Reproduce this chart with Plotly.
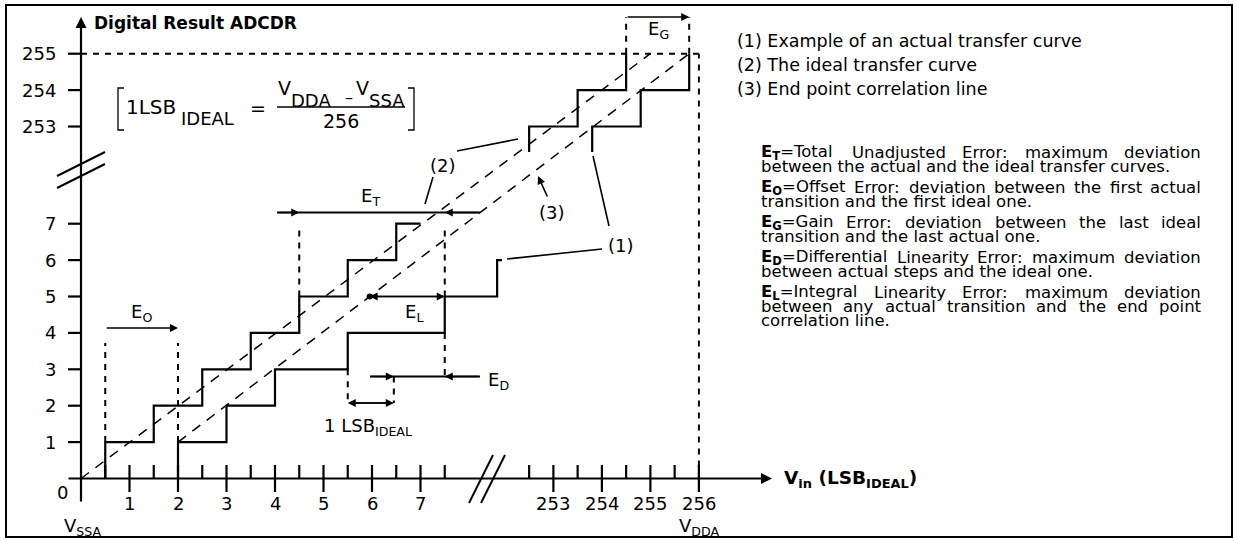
import plotly.graph_objects as go

W, H = 1237, 541
FONT = "DejaVu Sans, Liberation Sans, Arial, sans-serif"
INK = "black"

# ---------------- data (LSB units) ----------------
x_ticks_low = [1, 2, 3, 4, 5, 6, 7]
x_ticks_high = [253, 254, 255, 256]
x_half_ticks = [0.5, 1.5, 2.5, 3.5, 4.5, 5.5, 6.5, 7.5, 252.5, 253.5, 254.5, 255.5]
y_ticks = [1, 2, 3, 4, 5, 6, 7, 253, 254, 255]

# (2) ideal transfer curve (transitions at half LSB)
ideal_low_x = [0.5, 1.5, 2.5, 3.5, 4.5, 5.5, 6.5, 7.0]
ideal_low_y = [0, 1, 2, 3, 4, 5, 6, 7]
ideal_high_x = [252.5, 253.5, 254.5, 254.5]
ideal_high_y = [252.3, 253, 254, 255]

# (1) example of an actual transfer curve
actual_low_x = [2, 3, 4, 5.5, 7.5, 8.58, 8.68]
actual_low_y = [0, 1, 2, 3, 4, 5, 6]
actual_high_x = [253.8, 254.8, 255.8, 255.8]
actual_high_y = [252.3, 253, 254, 255]

# straight lines
ideal_line_x = [0, 255]
ideal_line_y = [0, 255]
endpoint_line_x = [2, 255.8]      # (3) end point correlation line
endpoint_line_y = [1, 255]

one_lsb = [5.5, 6.45]             # 1 LSB_IDEAL marker
full_scale = 256

error_defs = [
    ("T", ["Total Unadjusted Error: maximum deviation",
           "between the actual and the ideal transfer curves."]),
    ("O", ["Offset Error: deviation between the first actual",
           "transition and the first ideal one."]),
    ("G", ["Gain Error: deviation between the last ideal",
           "transition and the last actual one."]),
    ("D", ["Differential Linearity Error: maximum deviation",
           "between actual steps and the ideal one."]),
    ("L", ["Integral Linearity Error: maximum deviation",
           "between any actual transition and the end point",
           "correlation line."]),
]
legend_lines = ["(1) Example of an actual transfer curve",
                "(2) The ideal transfer curve",
                "(3) End point correlation line"]

# ---------------- axis geometry (broken axes) ----------------
X0_PX, X_SCALE = 81, 48.5
Y0_PX, Y_SCALE = 478.5, 36.4
X_BREAK_OFF = 243.26
Y_BREAK_OFF = 243.33


def xu(v):
    return v - X_BREAK_OFF if v > 100 else v


def yw(v):
    return v - Y_BREAK_OFF if v > 100 else v


def ux(px):
    return (px - X0_PX) / X_SCALE


def uy(py):
    return (Y0_PX - py) / Y_SCALE


fig = go.Figure()
shapes = []
annotations = []


def curve(xs, ys, shape="linear", width=2.2, dash=None):
    fig.add_trace(go.Scatter(
        x=[xu(v) for v in xs], y=[yw(v) for v in ys], mode="lines",
        line=dict(color=INK, width=width, shape=shape, dash=dash),
        hoverinfo="skip", showlegend=False))


def seg(u0, w0, u1, w1, width=2, dash=None):
    shapes.append(dict(type="line", xref="x", yref="y", x0=u0, y0=w0, x1=u1, y1=w1,
                       line=dict(color=INK, width=width, dash=dash)))


def arrow(u0, w0, u1, w1, width=1.6, size=1.0, head=2):
    annotations.append(dict(x=u1, y=w1, ax=u0, ay=w0, xref="x", yref="y", axref="x", ayref="y",
                            text="", showarrow=True, arrowhead=head, arrowsize=size,
                            arrowwidth=width, arrowcolor=INK, standoff=0, startstandoff=0))


def label(u, w, s, size=18, anchor="center", pad=1):
    annotations.append(dict(x=u, y=w, xref="x", yref="y", text=s, showarrow=False,
                            xanchor=anchor, yanchor="middle", borderpad=pad,
                            font=dict(family=FONT, size=size, color=INK)))


def ptext(px, py, s, size=18, anchor="center", pad=1):
    label(ux(px), uy(py), s, size, anchor, pad)


DASH_V = "6px,6px"

# ---------------- curves ----------------
curve(ideal_low_x, ideal_low_y, "vh")
curve(ideal_high_x, ideal_high_y, "vh")
curve(actual_low_x, actual_low_y, "vh")
curve(actual_high_x, actual_high_y, "vh")
curve(ideal_line_x, ideal_line_y, width=1.5, dash="10px,8px")
curve(endpoint_line_x, endpoint_line_y, width=1.5, dash="10px,8px")

# ---------------- axes ----------------
arrow(ux(67), 0, ux(772), 0, width=2.2, size=1.0)
arrow(0, uy(503), 0, uy(17), width=2.2, size=1.0)

tx, ty = [], []
for v in x_ticks_low + x_ticks_high:
    tx += [xu(v), xu(v), None]
    ty += [uy(465), uy(492), None]
for v in x_half_ticks:
    tx += [xu(v), xu(v), None]
    ty += [uy(465), 0, None]
for v in y_ticks:
    tx += [ux(68), 0, None]
    ty += [yw(v), yw(v), None]
fig.add_trace(go.Scatter(x=tx, y=ty, mode="lines", line=dict(color=INK, width=2.2),
                         hoverinfo="skip", showlegend=False))

for v in x_ticks_low + x_ticks_high:
    label(xu(v), uy(503), str(v))
for v in y_ticks:
    label(ux(58), yw(v), str(v), anchor="right")
ptext(62, 492, "0")
ptext(83, 527, "V<sub>SSA</sub>")
ptext(xu(full_scale) * X_SCALE + X0_PX + 1, 527, "V<sub>DDA</sub>")
ptext(92, 23, "<b>Digital Result ADCDR</b>", size=17, anchor="left")
ptext(782, 479, "<b>V<sub>in</sub> (LSB<sub>IDEAL</sub>)</b>", size=18.5, anchor="left")

# axis breaks
seg(ux(469), uy(503), ux(493), uy(455))
seg(ux(481), uy(503), ux(505), uy(455))
seg(ux(57), uy(176), ux(105), uy(152))
seg(ux(57), uy(188), ux(105), uy(164))

# full-scale dashed boundaries
seg(0, yw(255), xu(full_scale), yw(255), dash=DASH_V)
seg(xu(full_scale), 0, xu(full_scale), yw(255), dash=DASH_V)

# ---------------- error markers ----------------
# E_O: first ideal vs first actual transition
eo_a, eo_b = ideal_low_x[0], actual_low_x[0]
seg(eo_a, 1, eo_a, uy(343), dash=DASH_V)
seg(eo_b, 1, eo_b, uy(343), dash=DASH_V)
arrow(eo_a, uy(328), eo_b, uy(328))
label((eo_a + eo_b) / 2, uy(313), "E<sub>O</sub>")

# E_T: max deviation between actual and ideal curves
et_a, et_b = ideal_low_x[4], actual_low_x[4]
seg(et_a, ideal_low_y[5], et_a, uy(226), dash=DASH_V)
seg(et_b, actual_low_y[5], et_b, uy(226), dash=DASH_V)
seg(ux(277), uy(212.5), ux(480), uy(212.5), width=2)
arrow(ux(277), uy(212.5), et_a, uy(212.5))
arrow(ux(480), uy(212.5), et_b, uy(212.5))
label(ux(370), uy(197), "E<sub>T</sub>")

# E_L: actual transition vs end point line
eu0, eu1 = xu(endpoint_line_x[0]), xu(endpoint_line_x[1])
ew0, ew1 = yw(endpoint_line_y[0]), yw(endpoint_line_y[1])
el_y = 5
el_x = eu0 + (el_y - ew0) * (eu1 - eu0) / (ew1 - ew0)
arrow(et_b, el_y, el_x, el_y)
arrow(el_x, el_y, et_b, el_y)
fig.add_trace(go.Scatter(x=[el_x], y=[el_y], mode="markers",
                         marker=dict(color=INK, size=6), hoverinfo="skip", showlegend=False))
label(ux(414), uy(313), "E<sub>L</sub>")

# E_D and 1 LSB
ed_w = uy(376.5)
lsb_w = uy(403)
seg(et_b, actual_low_y[4], et_b, ed_w, dash=DASH_V)
seg(one_lsb[0], actual_low_y[3], one_lsb[0], lsb_w, dash=DASH_V)
seg(one_lsb[1], ed_w, one_lsb[1], lsb_w, dash=DASH_V)
seg(ux(370), ed_w, ux(480), ed_w, width=2)
arrow(ux(370), ed_w, one_lsb[1], ed_w)
arrow(ux(480), ed_w, et_b, ed_w)
label(ux(486), uy(381), "E<sub>D</sub>", anchor="left")
arrow(one_lsb[0], lsb_w, one_lsb[1], lsb_w)
arrow(one_lsb[1], lsb_w, one_lsb[0], lsb_w)
ptext(322, 427, "1 LSB<sub>IDEAL</sub>", anchor="left")

# E_G: last ideal vs last actual transition
eg_a, eg_b = xu(ideal_high_x[-1]), xu(actual_high_x[-1])
seg(eg_a, yw(255), eg_a, uy(17), dash=DASH_V)
seg(eg_b, yw(255), eg_b, uy(17), dash=DASH_V)
arrow(eg_a, uy(17), eg_b, uy(17))
label(ux(658), uy(30), "E<sub>G</sub>")

# ---------------- leader lines ----------------
seg(ux(433), uy(177), ux(425), uy(204), width=1.6)
seg(ux(457), uy(151), ux(518), uy(139), width=1.6)
ptext(443, 165, "(2)")
arrow(ux(548), uy(198), ux(538), uy(176), width=1.6)
ptext(552, 212, "(3)")
seg(ux(602), uy(249), ux(507), uy(259), width=1.6)
seg(ux(609), uy(226), ux(593), uy(156), width=1.6)
ptext(621, 245, "(1)")

# ---------------- formula ----------------
shapes.append(dict(type="path", xref="x", yref="y", line=dict(color=INK, width=1.3),
                   path=f"M {ux(124)} {uy(88)} L {ux(118)} {uy(88)} L {ux(118)} {uy(130)} L {ux(124)} {uy(130)}"))
shapes.append(dict(type="path", xref="x", yref="y", line=dict(color=INK, width=1.3),
                   path=f"M {ux(408)} {uy(88)} L {ux(414)} {uy(88)} L {ux(414)} {uy(130)} L {ux(408)} {uy(130)}"))
ptext(125, 107, "1LSB", size=20, anchor="left", pad=0)
ptext(180, 118, "IDEAL", size=18, anchor="left", pad=0)
ptext(258, 108, "=", size=19)
ptext(277, 88, "V", size=19, anchor="left", pad=0)
ptext(290, 100, "DDA", size=18, anchor="left", pad=0)
ptext(349, 97, "\u2013", size=16)
ptext(355, 88, "V", size=19, anchor="left", pad=0)
ptext(368, 100, "SSA", size=18, anchor="left", pad=0)
seg(ux(277), uy(107), ux(405), uy(107), width=1.5)
ptext(341, 121, str(full_scale), size=19)

# ---------------- right-hand text panel ----------------
# DejaVu Sans advance widths (em)
REG = dict(A=.684, B=.686, C=.698, D=.770, E=.632, F=.575, G=.775, H=.752, I=.295, J=.295,
           K=.656, L=.557, M=.863, N=.748, O=.787, P=.603, Q=.787, R=.695, S=.635, T=.611,
           U=.732, V=.684, W=.989, X=.685, Y=.611, Z=.685,
           a=.613, b=.635, c=.550, d=.635, e=.615, f=.352, g=.635, h=.634, i=.278, j=.278,
           k=.579, l=.278, m=.974, n=.634, o=.612, p=.635, q=.635, r=.411, s=.521, t=.392,
           u=.634, v=.592, w=.818, x=.592, y=.592, z=.525)
REG.update({" ": .318, "(": .390, ")": .390, ".": .318, ":": .337, "=": .838, ",": .318})
BOLD = dict(E=.683, T=.682, O=.850, G=.821, D=.830, L=.637)
PSIZE = 16.5
TX0, TX1 = 760, 1200


def wlen(s):
    return sum(REG.get(c, .636) for c in s) * PSIZE


def place_line(words, py, justify, lead=None, lead_w=0.0):
    items = list(words)
    widths = [wlen(wd) for wd in items]
    if lead is not None:
        items[0] = lead + items[0]
        widths[0] += lead_w
    if not justify:
        ptext(TX0, py, " ".join(items), size=PSIZE, anchor="left", pad=0)
        return
    gap = (TX1 - TX0 - sum(widths)) / (len(items) - 1)
    x = TX0
    for it, wd in zip(items, widths):
        ptext(x, py, it, size=PSIZE, anchor="left", pad=0)
        x += wd + gap


for i, s in enumerate(legend_lines):
    ptext(736, 41 + 24 * i, s, size=17.5, anchor="left", pad=0)

for k, (sub, lines) in enumerate(error_defs):
    lead = f"<b>E<sub>{sub}</sub></b>="
    lead_w = (BOLD["E"] + 0.7 * BOLD[sub] + REG["="]) * PSIZE
    for j, line in enumerate(lines):
        last = j == len(lines) - 1
        place_line(line.split(" "), 152 + 35 * k + 14 * j, not last,
                   lead if j == 0 else None, lead_w if j == 0 else 0.0)

# outer frame
shapes.append(dict(type="rect", xref="paper", yref="paper", x0=6 / W, x1=1232 / W,
                   y0=1 - 537 / H, y1=1 - 5 / H, line=dict(color=INK, width=2)))

fig.update_layout(
    width=W, height=H, margin=dict(l=0, r=0, t=0, b=0),
    paper_bgcolor="white", plot_bgcolor="white", showlegend=False,
    xaxis=dict(range=[ux(0), ux(W)], visible=False, fixedrange=True),
    yaxis=dict(range=[uy(H), uy(0)], visible=False, fixedrange=True),
    shapes=shapes, annotations=annotations,
)

fig.write_html("out.html", config={"displayModeBar": False},
               post_script="document.body.style.margin='0px';")
